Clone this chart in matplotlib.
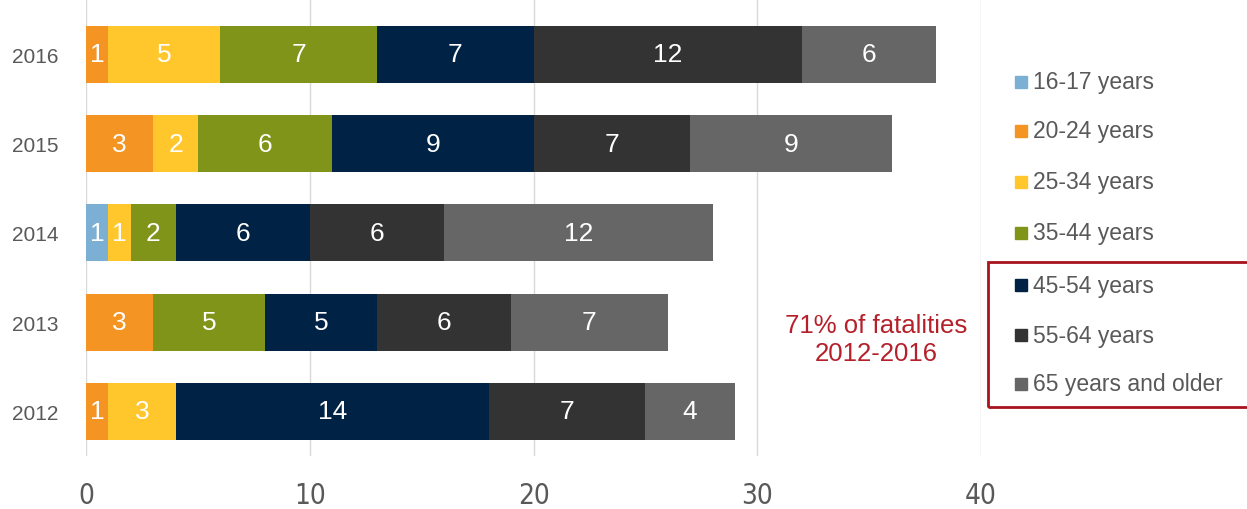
import matplotlib.pyplot as plt
from matplotlib.patches import Rectangle
import numpy as np

# Fatalities by age group, per year
years = ["2012", "2013", "2014", "2015", "2016"]
age_groups = ["16-17 years", "20-24 years", "25-34 years", "35-44 years",
              "45-54 years", "55-64 years", "65 years and older"]
age_16_17 = [0, 0, 1, 0, 0]
age_20_24 = [1, 3, 0, 3, 1]
age_25_34 = [3, 0, 1, 2, 5]
age_35_44 = [0, 5, 2, 6, 7]
age_45_54 = [14, 5, 6, 9, 7]
age_55_64 = [7, 6, 6, 7, 12]
age_65_up = [4, 7, 12, 9, 6]
series = [age_16_17, age_20_24, age_25_34, age_35_44, age_45_54, age_55_64, age_65_up]
colors = ["#7BAFD4", "#F39423", "#FFC72C", "#7F9419", "#002244", "#333333", "#666666"]

plt.rcParams['font.family'] = ['Liberation Sans', 'DejaVu Sans']
grey = "#595959"

fig = plt.figure(figsize=(12.47, 5.10), dpi=100)
W, H = 1247, 510
ax = fig.add_axes([86 / W, 1 - 457 / H, (981 - 86) / W, 457 / H])

y = np.arange(len(years))
left = np.zeros(len(years))
for vals, col in zip(series, colors):
    vals = np.array(vals)
    bars = ax.barh(y, vals, left=left, height=0.64, color=col, zorder=3)
    for b, v in zip(bars, vals):
        if v > 0:
            ax.text(b.get_x() + b.get_width() / 2, b.get_y() + b.get_height() / 2, str(v),
                    ha="center", va="center", color="white", fontsize=19, zorder=4)
    left += vals

ax.set_xlim(0, 40)
ax.set_ylim(-0.5, 4.62)
ax.set_xticks([0, 10, 20, 30, 40])
ax.xaxis.grid(True, color="#D9D9D9", linewidth=1, zorder=0)
ax.set_yticks(y)
ax.set_yticklabels(years, fontsize=15, color=grey)
for lab in ax.get_xticklabels():
    lab.set_fontfamily(['DejaVu Sans'])
    lab.set_fontstretch('condensed')
    lab.set_fontsize(20)
    lab.set_color(grey)
ax.tick_params(axis="both", length=0)
ax.tick_params(axis="x", pad=18)
ax.tick_params(axis="y", pad=20)
for s in ax.spines.values():
    s.set_visible(False)

# legend drawn by hand
leg_y = [83, 132, 183, 234, 286, 336, 385]
for lab, col, ly in zip(age_groups, colors, leg_y):
    fig.patches.append(Rectangle((1015 / W, 1 - (ly + 6) / H), 12 / W, 12 / H,
                                 transform=fig.transFigure, color=col))
    fig.text(1033 / W, 1 - ly / H, lab, ha="left", va="center", fontsize=16.5, color=grey)

fig.patches.append(Rectangle((988 / W, 1 - 408 / H), 300 / W, (408 - 263) / H,
                             transform=fig.transFigure, fill=False,
                             edgecolor="#A8141E", linewidth=2))
fig.text(876 / W, 1 - 340 / H, "71% of fatalities\n2012-2016", ha="center", va="center",
         fontsize=18.5, color="#B5202A", linespacing=1.2)

plt.savefig("out.png", dpi=100)
